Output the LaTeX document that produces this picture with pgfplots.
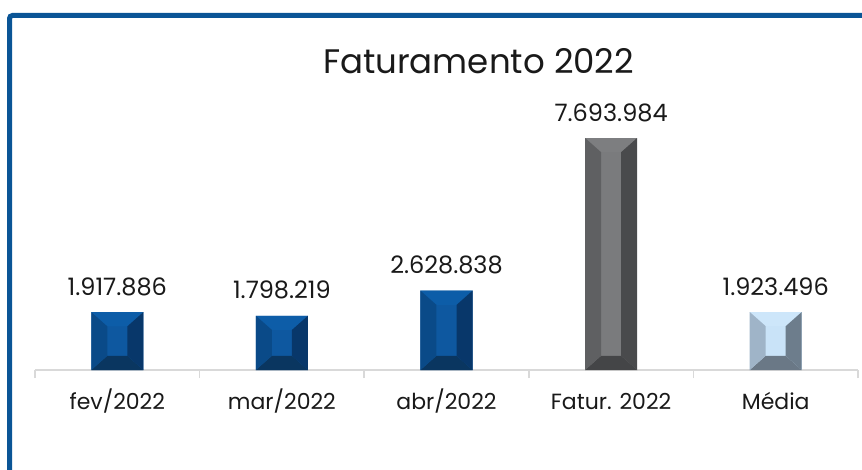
\documentclass[border=0pt]{standalone}
\usepackage{fontspec}
\setmainfont{Poppins}
\usepackage{pgfplots}
\pgfplotsset{compat=1.18}
\definecolor{frameblue}{HTML}{0A5596}
\definecolor{blueTop}{HTML}{0D5DA8}
\definecolor{blueLeft}{HTML}{0A4A88}
\definecolor{blueC}{HTML}{0E58A0}
\definecolor{blueRight}{HTML}{08376A}
\definecolor{blueBottom}{HTML}{0A3660}
\definecolor{grayTop}{HTML}{7D7E80}
\definecolor{grayLeft}{HTML}{5F6062}
\definecolor{grayC}{HTML}{7A7B7D}
\definecolor{grayRight}{HTML}{494A4C}
\definecolor{grayBottom}{HTML}{444547}
\definecolor{lightTop}{HTML}{CDE6FA}
\definecolor{lightLeft}{HTML}{9FB4C8}
\definecolor{lightC}{HTML}{C9E3F8}
\definecolor{lightRight}{HTML}{6D7D8C}
\definecolor{lightBottom}{HTML}{6A7886}
\definecolor{axisgray}{HTML}{D9D9D9}
% #1 colour prefix, #2 L, #3 inner L, #4 inner R, #5 R, #6 top, #7 inner top
\newcommand{\bevel}[7]{%
  \addplot[fill=#1Top, draw=none] coordinates {(#2,#6) (#5,#6) (#4,#7) (#3,#7) (#2,#6)};
  \addplot[fill=#1Bottom, draw=none] coordinates {(#2,0) (#5,0) (#4,470000) (#3,470000) (#2,0)};
  \addplot[fill=#1Left, draw=none] coordinates {(#2,0) (#2,#6) (#3,#7) (#3,470000) (#2,0)};
  \addplot[fill=#1Right, draw=none] coordinates {(#5,0) (#5,#6) (#4,#7) (#4,470000) (#5,0)};
}
\pgfplotsset{
  barlab/.style={
    nodes near coords={\pgfmathprintnumber[fixed, precision=0, 1000 sep={.}]{\pgfplotspointmeta}},
    every node near coord/.append style={font=\fontsize{24}{28}\selectfont, text=black!90, anchor=base, inner sep=0pt, yshift=17pt},
  },
}
\begin{document}
\begin{tikzpicture}
\path[use as bounding box] (0,0) rectangle (862pt,-470pt);
\clip (0,0) rectangle (862pt,-470pt);
\draw[frameblue, line width=5pt, rounded corners=3pt] (9.5pt,-15.5pt) rectangle (920pt,-540pt);
\node[anchor=base, text=black!90, font=\fontsize{34}{40}\selectfont] at (478.5pt,-74pt) {Faturamento 2022};
\begin{axis}[
  at={(35pt,-370pt)}, anchor=south west,
  scale only axis, width=823pt, height=241.2pt,
  xmin=-0.5, xmax=4.5, ymin=0, ymax=8000000,
  axis x line=bottom, axis y line=none,
  x axis line style={-, draw=axisgray, line width=1.5pt},
  xtick={0,1,2,3,4},
  xticklabels={fev/2022, mar/2022, abr/2022, Fatur. 2022, Média},
  major tick length=0pt,
  tick align=outside,
  extra x ticks={-0.5,0.5,1.5,2.5,3.5,4.5},
  extra x tick labels={},
  extra x tick style={major tick length=8pt, tick style={draw=axisgray, line width=1.5pt}},
  xticklabel style={font=\fontsize{22}{26}\selectfont, text=black!90, anchor=base, yshift=-39pt},
  /pgf/number format/assume math mode=true,
  clip=false,
]
\addplot[ybar, bar width=0.316, bar shift=0pt, fill=blueC, draw=none, barlab] coordinates {(0,1917886) (1,1798219) (2,2628838)};
\addplot[ybar, bar width=0.316, bar shift=0pt, fill=grayC, draw=none, barlab] coordinates {(3,7693984)};
\addplot[ybar, bar width=0.316, bar shift=0pt, fill=lightC, draw=none, barlab] coordinates {(4,1923496)};
\bevel{blue}{-0.158}{-0.061}{0.061}{0.158}{1917886}{1447886}
\bevel{blue}{0.842}{0.939}{1.061}{1.158}{1798219}{1328219}
\bevel{blue}{1.842}{1.939}{2.061}{2.158}{2628838}{2158838}
\bevel{gray}{2.842}{2.939}{3.061}{3.158}{7693984}{7223984}
\bevel{light}{3.842}{3.939}{4.061}{4.158}{1923496}{1453496}
\end{axis}
\end{tikzpicture}
\end{document}
